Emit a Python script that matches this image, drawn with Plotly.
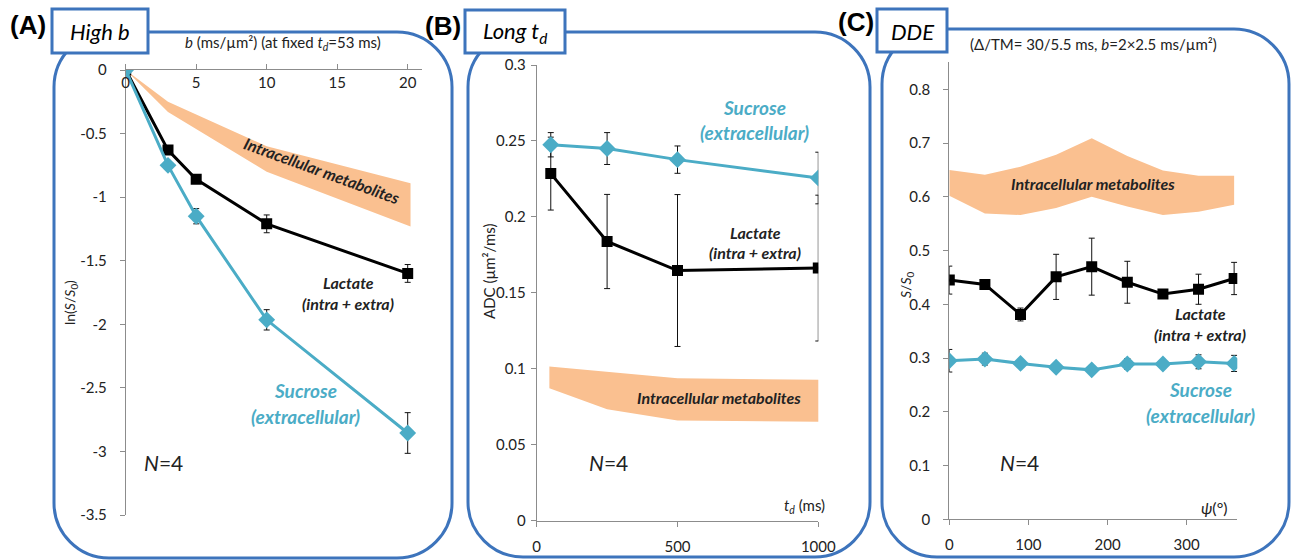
import plotly.graph_objects as go

W, H = 1291, 560

# ---------------- data ----------------
# Panel A: High b
b_vals = [0, 3, 5, 10, 20]
lac_a = [0, -0.63, -0.86, -1.21, -1.60]
lac_a_err = [0.0, 0.02, 0.02, 0.07, 0.07]
suc_a = [0, -0.75, -1.15, -1.965, -2.855]
suc_a_err = [0.0, 0.03, 0.06, 0.08, 0.16]
band_a_b = [0, 3, 5, 10, 20.2]
band_a_up = [0, -0.25, -0.35, -0.60, -0.89]
band_a_lo = [0, -0.33, -0.46, -0.80, -1.23]
a_yticks = [0, -0.5, -1, -1.5, -2, -2.5, -3, -3.5]
a_yticktext = ["0", "-0.5", "-1", "-1.5", "-2", "-2.5", "-3", "-3.5"]
a_xticks = [0, 5, 10, 15, 20]

# Panel B: Long td
td_vals = [50, 250, 500, 1000]
suc_b = [0.2475, 0.245, 0.2377, 0.2256]
suc_b_err = [0.008, 0.0105, 0.009, 0.017]
lac_b = [0.2285, 0.1838, 0.1647, 0.1663]
lac_b_err = [0.024, 0.031, 0.05, 0.048]
band_b_t = [45, 250, 500, 1012]
band_b_up = [0.1015, 0.098, 0.0938, 0.0927]
band_b_lo = [0.0872, 0.0734, 0.0659, 0.0652]
b_yticks = [0, 0.05, 0.1, 0.15, 0.2, 0.25, 0.3]
b_xticks = [0, 500, 1000]

# Panel C: DDE
psi_vals = [0, 45, 90, 135, 180, 225, 270, 315, 360]
lac_c = [0.445, 0.437, 0.381, 0.451, 0.470, 0.441, 0.419, 0.428, 0.448]
lac_c_err = [0.026, 0.009, 0.012, 0.042, 0.053, 0.039, 0.005, 0.028, 0.030]
suc_c = [0.295, 0.298, 0.290, 0.283, 0.278, 0.289, 0.289, 0.293, 0.290]
suc_c_err = [0.021, 0.011, 0.004, 0.004, 0.004, 0.010, 0.004, 0.013, 0.015]
band_c_psi = [0, 45, 90, 135, 180, 225, 270, 315, 360]
band_c_up = [0.650, 0.641, 0.656, 0.678, 0.709, 0.676, 0.649, 0.639, 0.639]
band_c_lo = [0.602, 0.569, 0.566, 0.579, 0.600, 0.582, 0.566, 0.572, 0.585]
c_yticks = [0, 0.1, 0.2, 0.3, 0.4, 0.5, 0.6, 0.7, 0.8]
c_xticks = [0, 100, 200, 300]

# ---------------- styles ----------------
TEAL = "#4BACC6"
ORANGE = "#FAC090"
BLUE = "#3D74BC"
AXIS = "#8C8C8C"
FONT = "Lato"
TXT = "#222222"


def px(x, y):
    return x / W, 1 - y / H


fig = go.Figure()


def band(xs, up, lo, xa, ya):
    fig.add_trace(go.Scatter(
        x=list(xs) + list(xs)[::-1], y=list(up) + list(lo)[::-1],
        fill="toself", fillcolor=ORANGE, line=dict(width=0, color=ORANGE),
        mode="lines", hoverinfo="skip", xaxis=xa, yaxis=ya, showlegend=False))


def series(xs, ys, err, color, symbol, size, xa, ya):
    fig.add_trace(go.Scatter(
        x=xs, y=ys, mode="lines+markers",
        line=dict(color=color, width=3),
        marker=dict(symbol=symbol, size=size, color=color, line=dict(width=0)),
        error_y=dict(type="data", array=err, visible=True, color="#111111",
                     thickness=1, width=3),
        xaxis=xa, yaxis=ya, showlegend=False))


# Panel A
band(band_a_b, band_a_up, band_a_lo, "x", "y")
series(b_vals, lac_a, lac_a_err, "black", "square", 11, "x", "y")
series(b_vals, suc_a, suc_a_err, TEAL, "diamond", 13, "x", "y")
# Panel B
band(band_b_t, band_b_up, band_b_lo, "x2", "y2")
series(td_vals, lac_b, lac_b_err, "black", "square", 11, "x2", "y2")
series(td_vals, suc_b, suc_b_err, TEAL, "diamond", 13, "x2", "y2")
# Panel C
band(band_c_psi, band_c_up, band_c_lo, "x3", "y3")
series(psi_vals, lac_c, lac_c_err, "black", "square", 11, "x3", "y3")
series(psi_vals, suc_c, suc_c_err, TEAL, "diamond", 13, "x3", "y3")


def dom_x(p0, p1):
    return [p0 / W, p1 / W]


def dom_y(ptop, pbot):
    return [1 - pbot / H, 1 - ptop / H]


axis_common = dict(showgrid=False, zeroline=False, showline=True, linecolor=AXIS,
                   linewidth=1, ticks="outside", tickcolor=AXIS, ticklen=5,
                   tickfont=dict(family=FONT, size=15, color=TXT),
                   fixedrange=True, automargin=False)

fig.update_layout(
    template="none",
    width=W, height=H, margin=dict(l=0, r=0, t=0, b=0, pad=0, autoexpand=False),
    paper_bgcolor="white", plot_bgcolor="rgba(0,0,0,0)",
    font=dict(family=FONT, color=TXT),
    showlegend=False,
    xaxis=dict(domain=dom_x(125.7, 421.8), range=[0, 21], side="top", anchor="y",
               tickvals=a_xticks, ticklabelposition="inside", ticklabeloverflow="allow",
               ticklabelstandoff=7, **axis_common),
    yaxis=dict(domain=dom_y(70, 515), range=[-3.5, 0], anchor="x",
               tickvals=a_yticks, ticktext=a_yticktext, ticklabelstandoff=10,
               **axis_common),
    xaxis2=dict(domain=dom_x(536.7, 818.3), range=[0, 1000], anchor="y2",
                tickvals=b_xticks, ticklabelstandoff=7, **axis_common),
    yaxis2=dict(domain=dom_y(65, 520.7), range=[0, 0.3], anchor="x2",
                tickvals=b_yticks, ticklabelstandoff=2, **axis_common),
    xaxis3=dict(domain=dom_x(949.3, 1237.3), range=[0, 364], anchor="y3",
                tickvals=c_xticks, ticklabelstandoff=7, **axis_common),
    yaxis3=dict(domain=dom_y(62.4, 519.3), range=[0, 0.85], anchor="x3",
                tickvals=c_yticks, ticklabelstandoff=10, **axis_common),
)


# ---------------- frames ----------------
def rrect_path(x0, y0, x1, y1, r):
    k = 0.5523 * r
    segs = [
        ("M", [(x0 + r, y0)]),
        ("L", [(x1 - r, y0)]),
        ("C", [(x1 - r + k, y0), (x1, y0 + r - k), (x1, y0 + r)]),
        ("L", [(x1, y1 - r)]),
        ("C", [(x1, y1 - r + k), (x1 - r + k, y1), (x1 - r, y1)]),
        ("L", [(x0 + r, y1)]),
        ("C", [(x0 + r - k, y1), (x0, y1 - r + k), (x0, y1 - r)]),
        ("L", [(x0, y0 + r)]),
        ("C", [(x0, y0 + r - k), (x0 + r - k, y0), (x0 + r, y0)]),
    ]
    out = []
    for cmd, pts in segs:
        coords = " ".join("%.5f,%.5f" % px(a, b) for a, b in pts)
        out.append(cmd + coords)
    return " ".join(out) + " Z"


shapes = []
for (x0, y0, x1, y1) in [(54, 32, 452, 558), (468, 32, 870, 557), (882, 29, 1289, 557)]:
    shapes.append(dict(type="path", path=rrect_path(x0, y0, x1, y1, 55),
                       xref="paper", yref="paper", line=dict(color=BLUE, width=3),
                       fillcolor="rgba(0,0,0,0)", layer="above"))
for (x0, y0, x1, y1) in [(52, 9, 148, 53), (465, 10, 565, 53), (877, 9, 947, 52)]:
    a0, b0 = px(x0, y0)
    a1, b1 = px(x1, y1)
    shapes.append(dict(type="rect", x0=a0, x1=a1, y0=b1, y1=b0, xref="paper", yref="paper",
                       line=dict(color=BLUE, width=3), fillcolor="white", layer="above"))
fig.update_layout(shapes=shapes)

# ---------------- annotations ----------------
anns = []


def ann(text, x, y, size=14, color=TXT, angle=0, xanchor="center", family=FONT):
    ax, ay = px(x, y)
    anns.append(dict(text=text, x=ax, y=ay, xref="paper", yref="paper", showarrow=False,
                     xanchor=xanchor, yanchor="middle", textangle=angle,
                     font=dict(family=family, size=size, color=color)))


# panel labels and titles
ann("<b>(A)</b>", 28, 25, 26, "black", family="Liberation Sans")
ann("<b>(B)</b>", 443, 26, 26, "black", family="Liberation Sans")
ann("<b>(C)</b>", 856, 22, 26, "black", family="Liberation Sans")
ann("<i>High b</i>", 100, 31, 22, "black")
ann("<i>Long t<sub>d</sub></i>", 515, 32, 22, "black")
ann("<i>DDE</i>", 912, 31, 22, "black")
ann("<i>b</i> (ms/µm²) (at fixed <i>t<sub>d</sub></i>=53 ms)", 283, 43, 15, TXT)
ann("(Δ/TM= 30/5.5 ms, <i>b</i>=2×2.5 ms/µm²)", 1093, 44, 15, TXT)

# y-axis titles
ann("ln(<i>S</i>/<i>S</i><sub>0</sub>)", 70, 303, 14, TXT, angle=-90)
ann("ADC (µm²/ms)", 489, 272, 15, TXT, angle=-90)
ann("<i>S</i>/<i>S</i><sub>0</sub>", 906, 285, 14, TXT, angle=-90)

# panel A texts
ann("<b><i>Intracellular metabolites</i></b>", 322, 170, 16, TXT, angle=20)
ann("<b><i>Lactate</i></b>", 348, 282, 16, TXT)
ann("<b><i>(intra + extra)</i></b>", 348, 303, 16, TXT)
ann("<b><i>Sucrose</i></b>", 305, 390, 19, TEAL)
ann("<b><i>(extracellular)</i></b>", 305, 416, 19, TEAL)
ann("<i>N</i>=4", 163, 462, 21, TXT)

# panel B texts
ann("<b><i>Sucrose</i></b>", 754, 107, 19, TEAL)
ann("<b><i>(extracellular)</i></b>", 754, 132, 19, TEAL)
ann("<b><i>Lactate</i></b>", 755, 232, 16, TXT)
ann("<b><i>(intra + extra)</i></b>", 755, 253, 16, TXT)
ann("<b><i>Intracellular metabolites</i></b>", 719, 397, 16, TXT)
ann("<i>N</i>=4", 608, 462, 21, TXT)
ann("<i>t<sub>d</sub></i> (ms)", 827, 506, 15, TXT, xanchor="right")

# panel C texts
ann("<b><i>Intracellular metabolites</i></b>", 1093, 184, 16, TXT)
ann("<b><i>Lactate</i></b>", 1200, 313, 16, TXT)
ann("<b><i>(intra + extra)</i></b>", 1200, 334, 16, TXT)
ann("<b><i>Sucrose</i></b>", 1200, 389, 19, TEAL)
ann("<b><i>(extracellular)</i></b>", 1200, 415, 19, TEAL)
ann("<i>N</i>=4", 1019, 462, 21, TXT)
ann("<i>ψ</i>(°)", 1230, 507, 16, TXT, xanchor="right")

fig.update_layout(annotations=anns)

fig.write_html(
    "out.html",
    config={"displayModeBar": False},
    post_script="document.body.style.margin='0';document.body.style.padding='0';"
                "document.body.style.overflow='hidden';",
)
